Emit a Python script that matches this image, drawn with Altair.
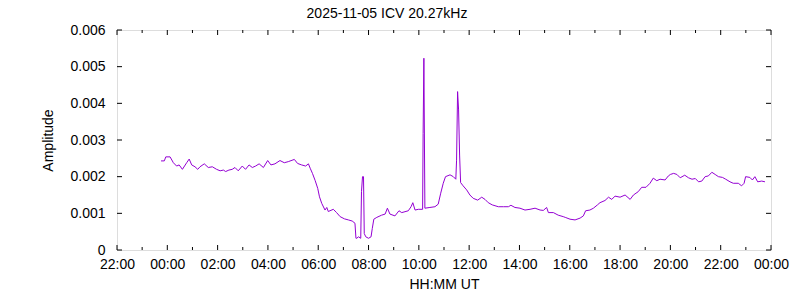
import altair as alt
import pandas as pd

# Time (decimal hours UT relative to 2025-11-05 00:00) and amplitude
hours = [
    -0.25, -0.12, -0.06, 0.11, 0.24, 0.37, 0.47, 0.60, 0.77, 0.87, 0.97, 1.10, 1.21, 1.30, 1.47,
    1.63, 1.79, 1.96, 2.10, 2.23, 2.32, 2.45, 2.58, 2.69, 2.82, 2.98, 3.11, 3.25, 3.38, 3.51, 3.65,
    3.82, 3.99, 4.12, 4.28, 4.48, 4.65, 4.81, 5.05, 5.18, 5.34, 5.50, 5.61, 5.68, 5.77, 5.88, 5.98,
    6.05, 6.14, 6.27, 6.34, 6.40, 6.60, 6.73, 6.87, 7.04, 7.20, 7.35, 7.46, 7.50,
    7.53, 7.60, 7.69, 7.72, 7.76, 7.80, 7.83, 7.89, 8.00, 8.10, 8.15, 8.21, 8.33, 8.52, 8.66, 8.75,
    8.85, 9.05, 9.21, 9.32, 9.58, 9.69, 9.76, 9.85, 9.98, 10.15, 10.17, 10.20, 10.24, 10.44, 10.64,
    10.77, 10.87, 10.97, 11.06, 11.24, 11.37, 11.47, 11.50, 11.54, 11.58, 11.62, 11.66, 11.76,
    11.90, 12.03, 12.16, 12.34, 12.50, 12.63, 12.76, 12.92, 13.16, 13.36, 13.56, 13.66, 13.82, 14.02,
    14.22, 14.42, 14.62, 14.82, 14.95, 15.08, 15.15, 15.35, 15.54, 15.74,
    15.82, 16.01, 16.21, 16.41, 16.54, 16.63, 16.80, 16.94, 17.10, 17.20, 17.40, 17.54, 17.67, 17.80,
    18.00, 18.20, 18.40, 18.53, 18.72, 18.86, 19.03, 19.19, 19.32, 19.46, 19.59, 19.79, 19.92,
    20.00, 20.13, 20.26, 20.39, 20.57, 20.72, 20.86, 20.99, 21.12, 21.25, 21.38, 21.51, 21.65, 21.78,
    21.91, 22.07, 22.20, 22.37, 22.50, 22.70, 22.83, 22.93, 22.99, 23.16, 23.26, 23.36, 23.47, 23.63, 23.76,
]
amplitude = [
    0.00243, 0.00243, 0.00254, 0.00254, 0.00238, 0.00229, 0.00232, 0.00220, 0.00238, 0.00248, 0.00232,
    0.00227, 0.00220, 0.00227, 0.00235, 0.00225, 0.00227, 0.00220, 0.00216, 0.00218, 0.00214, 0.00218,
    0.00220, 0.00225, 0.00216, 0.00229, 0.00220, 0.00232, 0.00225, 0.00229, 0.00235,
    0.00225, 0.00244, 0.00232, 0.00235, 0.00244, 0.00238, 0.00241, 0.00247, 0.00236, 0.00232, 0.00229,
    0.00235, 0.00223, 0.00209, 0.00189, 0.00168, 0.00145, 0.00127, 0.00109, 0.00116, 0.00105, 0.00111,
    0.00102, 0.00091, 0.00085, 0.00082, 0.00079, 0.00073, 0.00032,
    0.00032, 0.00036, 0.00032, 0.00159, 0.00200, 0.00200, 0.00045, 0.00036, 0.00032, 0.00036, 0.00059,
    0.00084, 0.00089, 0.00095, 0.00098, 0.00114, 0.00098, 0.00093, 0.00107, 0.00102, 0.00107, 0.00118,
    0.00129, 0.00109, 0.00111, 0.00111, 0.00318, 0.00523, 0.00114, 0.00116, 0.00118, 0.00125, 0.00155,
    0.00182, 0.00200, 0.00205, 0.00200, 0.00193, 0.00245, 0.00432, 0.00382, 0.00259, 0.00184, 0.00175,
    0.00164, 0.00150, 0.00141, 0.00136, 0.00144, 0.00138, 0.00129, 0.00123, 0.00118, 0.00118, 0.00118,
    0.00122, 0.00116, 0.00114, 0.00109, 0.00111, 0.00114, 0.00109, 0.00108, 0.00116, 0.00102, 0.00102,
    0.00095, 0.00091,
    0.00089, 0.00084, 0.00082, 0.00087, 0.00093, 0.00107, 0.00109, 0.00114, 0.00123, 0.00129, 0.00135,
    0.00144, 0.00138, 0.00147, 0.00144, 0.00150, 0.00138, 0.00150, 0.00159, 0.00171, 0.00171, 0.00182,
    0.00196, 0.00189, 0.00193, 0.00191, 0.00202,
    0.00206, 0.00209, 0.00206, 0.00197, 0.00204, 0.00197, 0.00193, 0.00195, 0.00186, 0.00188, 0.00200,
    0.00202, 0.00212, 0.00206, 0.00200, 0.00198, 0.00193, 0.00186, 0.00182, 0.00182, 0.00175, 0.00182,
    0.00200, 0.00198, 0.00191, 0.00200, 0.00186, 0.00188, 0.00186,
]

x_major = [-2, 0, 2, 4, 6, 8, 10, 12, 14, 16, 18, 20, 22, 24]
x_minor = [-1, 1, 3, 5, 7, 9, 11, 13, 15, 17, 19, 21, 23]
y_major = [0, 0.001, 0.002, 0.003, 0.004, 0.005, 0.006]

W, H = 654, 220
FONT = "Liberation Sans"
COLOR = "#9400D3"

df = pd.DataFrame({"h": hours, "amp": amplitude})
xscale = alt.Scale(domain=[-2, 24], nice=False, zero=False)
yscale = alt.Scale(domain=[0, 0.006], nice=False)

label_expr = ("(((datum.value % 24) + 24) % 24 < 10 ? '0' : '') + "
              "(((datum.value % 24) + 24) % 24) + ':00'")
ylabel_expr = "datum.value < 0.0005 ? '0' : format(datum.value, '.3f')"

xaxis = alt.Axis(values=x_major, labelExpr=label_expr, title="HH:MM UT",
                 domain=False, ticks=False, grid=False, labelPadding=7,
                 labelFontSize=14, titleFontSize=14, titleFontWeight="normal",
                 titlePadding=6, labelFont=FONT, titleFont=FONT,
                 labelColor="black", titleColor="black", labelFlush=False,
                 labelOverlap=False)
yaxis = alt.Axis(values=y_major, labelExpr=ylabel_expr, title="Amplitude",
                 domain=False, ticks=False, grid=False, labelPadding=12,
                 labelFontSize=14, titleFontSize=14, titleFontWeight="normal",
                 titlePadding=14, labelFont=FONT, titleFont=FONT,
                 labelColor="black", titleColor="black", labelOverlap=False,
                 labelFlush=False, labelBound=False)

line = alt.Chart(df).mark_line(color=COLOR, strokeWidth=1, interpolate="linear").encode(
    x=alt.X("h:Q", scale=xscale, axis=xaxis),
    y=alt.Y("amp:Q", scale=yscale, axis=yaxis),
)

xmaj = pd.DataFrame({"h": x_major})
xmin = pd.DataFrame({"h": x_minor})
ymaj = pd.DataFrame({"amp": y_major})

def xticks(d, length):
    bot = alt.Chart(d).mark_rule(color="black", strokeWidth=1).encode(
        x=alt.X("h:Q", scale=xscale, axis=xaxis), y=alt.value(H), y2=alt.value(H - length))
    top = alt.Chart(d).mark_rule(color="black", strokeWidth=1).encode(
        x=alt.X("h:Q", scale=xscale, axis=xaxis), y=alt.value(0), y2=alt.value(length))
    return bot + top

yl = alt.Chart(ymaj).mark_rule(color="black", strokeWidth=1).encode(
    y=alt.Y("amp:Q", scale=yscale, axis=yaxis), x=alt.value(0), x2=alt.value(5))
yr = alt.Chart(ymaj).mark_rule(color="black", strokeWidth=1).encode(
    y=alt.Y("amp:Q", scale=yscale, axis=yaxis), x=alt.value(W), x2=alt.value(W - 5))

chart = alt.layer(line, xticks(xmaj, 5), xticks(xmin, 3), yl, yr).properties(
    width=W, height=H,
    title=alt.TitleParams("2025-11-05 ICV 20.27kHz", font=FONT, fontSize=14,
                          fontWeight="normal", color="black", anchor="middle",
                          dx=-57, offset=2),
    autosize=alt.AutoSizeParams(type="none"),
    padding={"left": 117, "top": 30, "right": 29, "bottom": 50},
).configure_view(stroke="black", strokeWidth=1).configure(background="white")

chart.save("out.html", embed_options={"renderer": "svg", "actions": False})
